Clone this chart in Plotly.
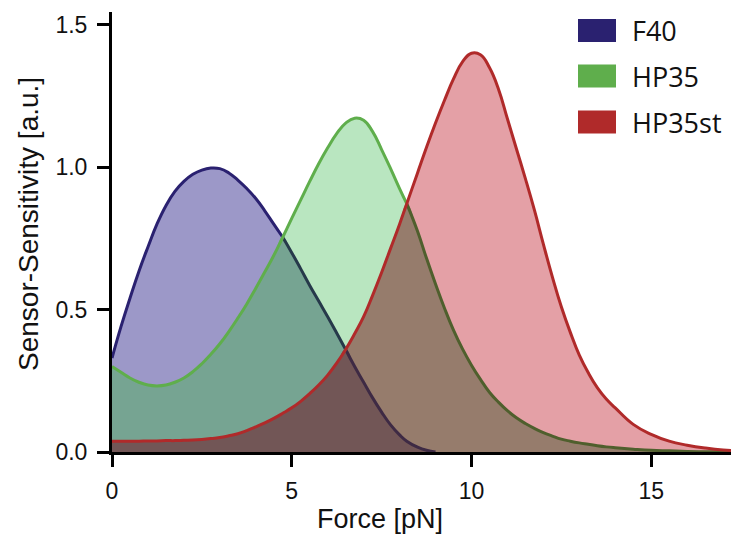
import numpy as np
import plotly.graph_objects as go

# ---------------- data ----------------
force = [0, 0.25, 0.5, 0.75, 1, 1.25, 1.5, 1.75, 2, 2.25, 2.5, 2.75, 3, 3.25, 3.5, 3.75, 4, 4.25,
         4.5, 4.75, 5, 5.25, 5.5, 5.75, 6, 6.25, 6.5, 6.75, 7, 7.25, 7.5, 7.75, 8,
         8.2,
         8.5, 8.75, 9, 9.25, 9.5, 9.75, 10, 10.25, 10.5, 10.75, 11, 11.25, 11.5, 11.75, 12, 12.25,
         12.5, 12.75, 13, 13.25, 13.5, 13.75, 14,
         14.5, 15, 15.5, 16, 16.5, 17, 17.5]

f40 = [0.33, 0.44, 0.54, 0.635, 0.72, 0.80, 0.865, 0.915, 0.95, 0.975, 0.99, 0.997, 0.995, 0.98,
       0.955, 0.925, 0.89, 0.847, 0.80, 0.754, 0.70, 0.643, 0.585, 0.53, 0.475, 0.418, 0.36, 0.30,
       0.245, 0.19, 0.14, 0.095, 0.06,
       0.038,
       0.017, 0.006, 0.0, 0, 0, 0, 0, 0, 0, 0, 0, 0, 0, 0, 0, 0, 0, 0, 0, 0, 0, 0, 0,
       0, 0, 0, 0, 0, 0, 0]

hp35 = [0.30, 0.28, 0.26, 0.245, 0.235, 0.232, 0.235, 0.245, 0.26, 0.282, 0.31, 0.343, 0.38, 0.423,
        0.47, 0.52, 0.575, 0.632, 0.69, 0.754, 0.82, 0.885, 0.95, 1.012, 1.068, 1.118, 1.155, 1.172,
        1.165, 1.125, 1.062, 0.995, 0.925,
        0.872,
        0.775, 0.68, 0.59, 0.505, 0.428, 0.362, 0.305, 0.255, 0.21, 0.175, 0.145, 0.12, 0.10, 0.083,
        0.068, 0.056, 0.045, 0.038, 0.032, 0.027, 0.022, 0.018, 0.015,
        0.01, 0.006, 0.004, 0.002, 0.001, 0.0, 0.0]

hp35st = [0.038, 0.038, 0.038, 0.038, 0.039, 0.039, 0.04, 0.04, 0.041, 0.042, 0.044, 0.047, 0.051,
          0.057, 0.064, 0.075, 0.088, 0.102, 0.118, 0.136, 0.155, 0.178, 0.205, 0.235, 0.27, 0.312,
          0.36, 0.415, 0.475, 0.55, 0.63, 0.715, 0.80,
          0.872,
          0.98, 1.07, 1.155, 1.235, 1.31, 1.37, 1.40, 1.395, 1.35, 1.275, 1.17, 1.065, 0.96, 0.85,
          0.73, 0.615, 0.51, 0.42, 0.34, 0.278, 0.226, 0.186, 0.155,
          0.097, 0.062, 0.038, 0.024, 0.014, 0.007, 0.004]

series_names = ["F40", "HP35", "HP35st"]
x_ticks = [0, 5, 10, 15]
y_ticks = [0.0, 0.5, 1.0, 1.5]
x_title = "Force [pN]"
y_title = "Sensor-Sensitivity [a.u.]"

# ---------------- styles ----------------
line_cols = ["#2a2170", "#5fae4c", "#b02a2a"]
legend_cols = ["#2a2170", "#5fae4c", "#b02a2a"]
fill_purple = "#9c98c8"
fill_green = "#b9e6c0"
fill_teal = "#76a492"
fill_pink = "#e4a0a6"
fill_brown = "#967c6c"
fill_dark = "#725656"
line_f40_under_green = "#26394a"
line_f40_under_red = "#3e2a44"
line_hp35_under_red = "#4f5f2d"
SMOOTH = 1.3

x = np.array(force, dtype=float)
a = np.array(f40, dtype=float)
g = np.array(hp35, dtype=float)
r = np.array(hp35st, dtype=float)

fig = go.Figure()


def area(y, color):
    fig.add_trace(go.Scatter(x=x, y=y, mode="lines",
                             line=dict(width=0, shape="spline", smoothing=SMOOTH, color=color),
                             fill="tozeroy", fillcolor=color, hoverinfo="skip", showlegend=False))


def seg(y, mask, color):
    yy = np.where(mask, y, np.nan)
    fig.add_trace(go.Scatter(x=x, y=yy, mode="lines",
                             line=dict(width=3, shape="spline", smoothing=SMOOTH, color=color),
                             connectgaps=False, hoverinfo="skip", showlegend=False))


# fills (layered to reproduce the overlap colours)
area(a, fill_purple)
area(g, fill_green)
area(np.minimum(a, g), fill_teal)
area(r, fill_pink)
area(np.minimum(r, g), fill_brown)
area(np.minimum(r, a), fill_dark)

# lines
seg(a, (a >= g) & (x <= 6), line_cols[0])
seg(a, (a <= g) & (a >= r) & (x <= 9), line_f40_under_green)
seg(a, (a <= r) & (x >= 5) & (x <= 9), line_f40_under_red)
seg(g, g >= r, line_cols[1])
seg(g, (g <= r) & (x >= 5), line_hp35_under_red)
seg(r, np.ones_like(r, dtype=bool), line_cols[2])

# ---------------- layout ----------------
W, H = 731, 536
ml, mr, mt, mb = 112, 0, 12, 84
pw, ph = W - ml - mr, H - mt - mb


def px_x(p):
    return (p - ml) / pw


def px_y(p):
    return 1 - (p - mt) / ph


shapes = []
annotations = []
legend_rows = [30.5, 76, 122]
for name, col, cy in zip(series_names, legend_cols, legend_rows):
    shapes.append(dict(type="rect", xref="paper", yref="paper",
                       x0=px_x(578), x1=px_x(616), y0=px_y(cy + 11.5), y1=px_y(cy - 11.5),
                       fillcolor=col, line=dict(width=0), layer="above"))
    annotations.append(dict(text=name, xref="paper", yref="paper", x=px_x(630), y=px_y(cy),
                            xanchor="left", yanchor="middle", showarrow=False,
                            font=dict(family="Open Sans", size=27, color="#111111")))

# axis titles
annotations.append(dict(text=x_title, xref="paper", yref="paper", x=px_x(380), y=px_y(519),
                        xanchor="center", yanchor="middle", showarrow=False,
                        font=dict(family="Liberation Sans", size=27, color="#111111")))
annotations.append(dict(text=y_title, xref="paper", yref="paper", x=px_x(28), y=px_y(224),
                        xanchor="center", yanchor="middle", showarrow=False, textangle=-90,
                        font=dict(family="Liberation Sans", size=28, color="#111111")))

fig.update_layout(
    width=W, height=H,
    margin=dict(l=ml, r=mr, t=mt, b=mb, pad=0),
    paper_bgcolor="white", plot_bgcolor="white",
    showlegend=False,
    shapes=shapes, annotations=annotations,
    font=dict(family="Liberation Sans", color="#111111"),
)
fig.update_xaxes(range=[0, 17.22], tickvals=x_ticks, ticks="outside", ticklen=12, tickwidth=3,
                 tickcolor="black", showline=True, linewidth=3, linecolor="black",
                 showgrid=False, zeroline=False, tickfont=dict(size=23), ticklabelstandoff=4)
fig.update_yaxes(range=[0, 1.545], tickvals=y_ticks, tickformat=".1f", ticks="outside", ticklen=12,
                 tickwidth=3, tickcolor="black", showline=True, linewidth=3, linecolor="black",
                 showgrid=False, zeroline=False, tickfont=dict(size=23), ticklabelstandoff=5)

fig.write_html("out.html")
